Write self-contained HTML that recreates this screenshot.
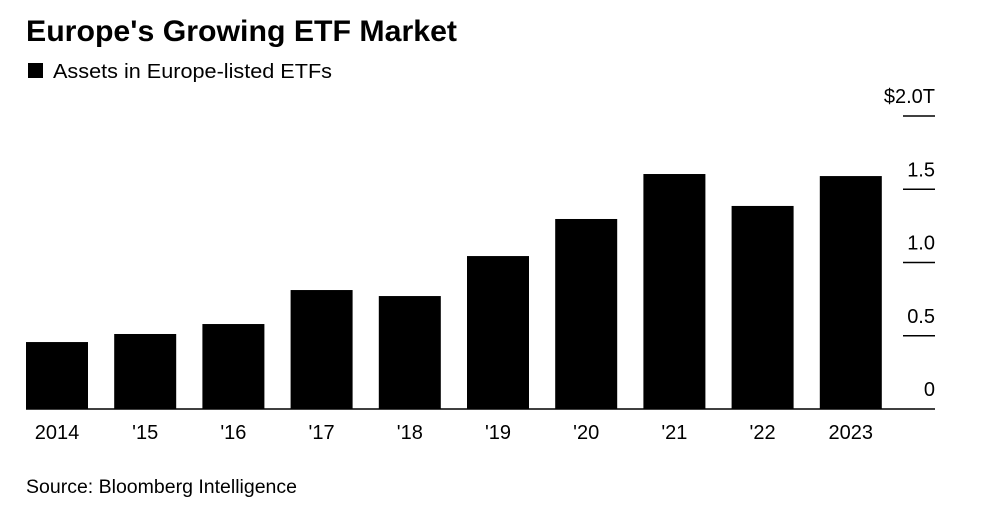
<!DOCTYPE html>
<html><head><meta charset="utf-8"><style>
body{margin:0;background:#fff;width:1008px;height:522px;overflow:hidden;font-family:"Liberation Sans",Arial,sans-serif;}
</style></head><body>
<svg width="1008" height="522" xmlns="http://www.w3.org/2000/svg">
<text x="26" y="41" font-size="30" font-weight="bold" fill="#000" textLength="431" lengthAdjust="spacingAndGlyphs">Europe's Growing ETF Market</text>
<rect x="28" y="63" width="15" height="15" fill="#000"/>
<text x="53" y="78" font-size="20.5" fill="#000" textLength="279" lengthAdjust="spacingAndGlyphs">Assets in Europe-listed ETFs</text>
<g id="bars"></g>
<g id="axis"></g>
<text x="26" y="493" font-size="19.5" fill="#000" textLength="271" lengthAdjust="spacingAndGlyphs">Source: Bloomberg Intelligence</text>
</svg>
<script>
const categories=["2014","'15","'16","'17","'18","'19","'20","'21","'22","2023"];
const values=[0.457,0.512,0.58,0.812,0.771,1.044,1.297,1.604,1.386,1.59];
const tickValues=[0,0.5,1.0,1.5,2.0];
const tickLabels=["0","0.5","1.0","1.5","$2.0T"];
const NS="http://www.w3.org/2000/svg";
const y0=409,pxPer=146.5;
function yScale(v){return y0-v*pxPer;}
function xScale(i){return 26+i*88.2;}
const bw=62;
const bars=document.getElementById('bars'),axis=document.getElementById('axis');
categories.forEach((c,i)=>{
  const r=document.createElementNS(NS,'rect');
  r.setAttribute('x',xScale(i));r.setAttribute('y',yScale(values[i]));
  r.setAttribute('width',bw);r.setAttribute('height',y0-yScale(values[i]));
  r.setAttribute('fill','#000');
  
  
  bars.appendChild(r);
  const t=document.createElementNS(NS,'text');
  t.setAttribute('x',xScale(i)+bw/2);t.setAttribute('y',439);
  t.setAttribute('text-anchor','middle');t.setAttribute('font-size','20');
  t.textContent=c;
  
  
  axis.appendChild(t);
});
tickValues.forEach((v,i)=>{
  const y=yScale(v);
  if(v>0){
    const l=document.createElementNS(NS,'line');
    l.setAttribute('x1',903);l.setAttribute('x2',935);l.setAttribute('y1',y);l.setAttribute('y2',y);
    l.setAttribute('stroke','#000');l.setAttribute('stroke-width','1.5');
    
    
    axis.appendChild(l);
  }
  const t=document.createElementNS(NS,'text');
  t.setAttribute('x',935);t.setAttribute('y',y-13);
  t.setAttribute('text-anchor','end');t.setAttribute('font-size','20');
  t.textContent=tickLabels[i];
  
  
  axis.appendChild(t);
});
const b=document.createElementNS(NS,'line');
b.setAttribute('x1',26);b.setAttribute('x2',935);b.setAttribute('y1',y0);b.setAttribute('y2',y0);
b.setAttribute('stroke','#000');b.setAttribute('stroke-width','1.5');


axis.appendChild(b);
</script>
</body></html>
